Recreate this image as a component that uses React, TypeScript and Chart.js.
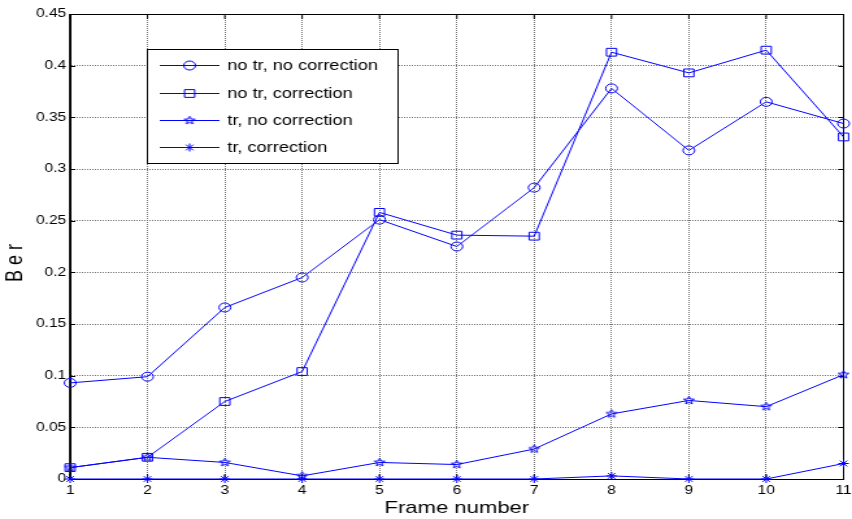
import React, { useEffect, useRef } from "react";
import { Chart, registerables } from "chart.js";
import { drawPoint } from "chart.js/helpers";

Chart.register(...registerables);

// Frame numbers on the x axis
const frames = [1, 2, 3, 4, 5, 6, 7, 8, 9, 10, 11];

// Bit error rate per frame, one array per configuration
const noTrNoCorrection = [0.093, 0.099, 0.166, 0.195, 0.251, 0.225, 0.282, 0.378, 0.318, 0.365, 0.344];
const noTrCorrection = [0.011, 0.021, 0.075, 0.104, 0.258, 0.236, 0.235, 0.413, 0.393, 0.415, 0.331];
const trNoCorrection = [0.011, 0.021, 0.016, 0.003, 0.016, 0.014, 0.029, 0.063, 0.076, 0.070, 0.101];
const trCorrection = [0, 0, 0, 0, 0, 0, 0, 0.003, 0, 0, 0.015];

const seriesLabels = ["no tr, no correction", "no tr, correction", "tr, no correction", "tr, correction"];

const yTicks = [0, 0.05, 0.1, 0.15, 0.2, 0.25, 0.3, 0.35, 0.4, 0.45];

const xTitle = "Frame number";
const yTitle = "B e r";

const CANVAS_W = 656;
const CANVAS_H = 519;
const STRETCH = 852 / CANVAS_W;
const FONT = '"Liberation Sans", Arial, Helvetica, sans-serif';
const BLUE = "#0000ff";

function makePentagram(r: number, color: string): HTMLCanvasElement {
  const size = Math.ceil(r * 2 + 4);
  const c = document.createElement("canvas");
  c.width = size;
  c.height = size;
  const g = c.getContext("2d")!;
  g.strokeStyle = color;
  g.lineWidth = 1;
  g.beginPath();
  for (let i = 0; i < 10; i++) {
    const a = -Math.PI / 2 + (i * Math.PI) / 5;
    const rr = i % 2 === 0 ? r : r * 0.42;
    const px = size / 2 + rr * Math.cos(a);
    const py = size / 2 + rr * Math.sin(a);
    if (i === 0) g.moveTo(px, py);
    else g.lineTo(px, py);
  }
  g.closePath();
  g.stroke();
  return c;
}

// Axes box with inward tick marks, MATLAB style
const framePlugin = {
  id: "axesFrame",
  beforeDatasetsDraw(chart: any) {
    const { ctx, chartArea: a, scales } = chart;
    ctx.save();
    ctx.strokeStyle = "#000";
    ctx.lineWidth = 1;
    ctx.strokeRect(a.left, Math.round(a.top) + 0.5, a.right - a.left, Math.round(a.bottom - a.top));
    ctx.lineWidth = 1.5;
    ctx.beginPath();
    ctx.moveTo(a.left, a.top);
    ctx.lineTo(a.left, a.bottom);
    ctx.stroke();
    ctx.lineWidth = 1;
    ctx.beginPath();
    for (const f of frames) {
      const px = scales.x.getPixelForValue(f);
      ctx.moveTo(px, a.bottom);
      ctx.lineTo(px, a.bottom - 5);
      ctx.moveTo(px, a.top);
      ctx.lineTo(px, a.top + 5);
    }
    for (const v of yTicks) {
      const py = Math.round(scales.y.getPixelForValue(v)) + 0.5;
      ctx.moveTo(a.left, py);
      ctx.lineTo(a.left + 4, py);
      ctx.moveTo(a.right, py);
      ctx.lineTo(a.right - 4, py);
    }
    ctx.stroke();
    ctx.restore();
  },
};

// Boxed legend placed inside the axes, plus the rotated y-axis label
const boxLegendPlugin = {
  id: "boxLegend",
  afterDraw(chart: any) {
    const { ctx } = chart;
    const left = 113;
    const top = 49;
    const w = 193;
    const h = 114;
    const rows = [65, 93, 120, 147];
    ctx.save();
    ctx.fillStyle = "#fff";
    ctx.fillRect(left, top, w, h);
    ctx.strokeStyle = "#000";
    ctx.lineWidth = 1;
    ctx.strokeRect(left + 0.5, top + 0.5, w, h);
    chart.data.datasets.forEach((ds: any, i: number) => {
      const y = rows[i] + 0.5;
      ctx.strokeStyle = ds.borderColor;
      ctx.lineWidth = 1;
      ctx.beginPath();
      ctx.moveTo(123, y);
      ctx.lineTo(169, y);
      ctx.stroke();
      ctx.fillStyle = "rgba(0,0,0,0)";
      drawPoint(ctx, { pointStyle: ds.pointStyle, radius: ds.pointRadius, rotation: 0, borderWidth: 1 } as any, 146, y);
      ctx.fillStyle = "#000";
      ctx.font = `14px ${FONT}`;
      ctx.textAlign = "left";
      ctx.textBaseline = "middle";
      ctx.fillText(ds.label, 175, rows[i] + 1);
    });

    ctx.translate(12.5, 263);
    ctx.rotate(-Math.PI / 2);
    ctx.fillStyle = "#000";
    ctx.font = `18px ${FONT}`;
    ctx.textAlign = "center";
    ctx.textBaseline = "middle";
    ctx.fillText(yTitle, 0, 0);
    ctx.restore();
  },
};

export default function App() {
  const canvasRef = useRef<HTMLCanvasElement | null>(null);

  useEffect(() => {
    const canvas = canvasRef.current;
    if (!canvas) return;
    const pentagram = makePentagram(4.3, BLUE);
    const toPoints = (vals: number[]) => frames.map((f, i) => ({ x: f, y: vals[i] }));
    const base = {
      borderColor: BLUE,
      backgroundColor: "rgba(0,0,0,0)",
      pointBorderColor: BLUE,
      pointBackgroundColor: "rgba(0,0,0,0)",
      borderWidth: 1,
      pointBorderWidth: 1,
      tension: 0,
      clip: false as const,
    };

    const gridCommon = { color: "#737373", lineWidth: 1, drawTicks: false };

    const chart = new Chart(canvas, {
      type: "line",
      data: {
        datasets: [
          { ...base, label: seriesLabels[0], data: toPoints(noTrNoCorrection), pointStyle: "circle", pointRadius: 4.5 },
          { ...base, label: seriesLabels[1], data: toPoints(noTrCorrection), pointStyle: "rect", pointRadius: 5.5 },
          { ...base, label: seriesLabels[2], data: toPoints(trNoCorrection), pointStyle: pentagram as any, pointRadius: 4 },
          { ...base, label: seriesLabels[3], data: toPoints(trCorrection), pointStyle: "star", pointRadius: 4 },
        ],
      },
      options: {
        responsive: false,
        animation: false,
        devicePixelRatio: 1,
        events: [],
        layout: { padding: { left: 0, right: 3, top: 14, bottom: 0 } },
        plugins: { legend: { display: false }, tooltip: { enabled: false } },
        scales: {
          x: {
            type: "linear",
            min: 1,
            max: 11,
            ticks: { stepSize: 1, padding: 4, color: "#000", font: { family: FONT, size: 12 }, autoSkip: false, maxRotation: 0 },
            grid: gridCommon,
            border: { display: true, color: "#000", width: 1, dash: [1, 1] },
            title: { display: true, text: xTitle, color: "#000", font: { family: FONT, size: 17 }, padding: { top: 0, bottom: 0 } },
            afterFit(scale: any) {
              scale.height = 40;
              scale.paddingLeft = 0;
              scale.paddingRight = 0;
            },
          },
          y: {
            type: "linear",
            min: 0,
            max: 0.45,
            afterBuildTicks(scale: any) {
              scale.ticks = yTicks.map((v) => ({ value: v }));
            },
            ticks: {
              padding: 3,
              color: "#000",
              font: { family: FONT, size: 12 },
              autoSkip: false,
              callback: (v: any) => String(Math.round(Number(v) * 100) / 100),
            },
            grid: gridCommon,
            border: { display: true, color: "#000", width: 1, dash: [1, 1] },
            title: { display: false },
            afterFit(scale: any) {
              scale.width = 54;
              scale.paddingTop = 0;
              scale.paddingBottom = 0;
            },
          },
        },
      } as any,
      plugins: [framePlugin, boxLegendPlugin],
    });

    return () => chart.destroy();
  }, []);

  return (
    <div style={{ position: "fixed", left: 0, top: 0, width: 852, height: 519, overflow: "hidden", background: "#fff" }}>
      <div style={{ width: CANVAS_W, height: CANVAS_H, transform: `scaleX(${STRETCH})`, transformOrigin: "0 0" }}>
        <canvas ref={canvasRef} width={CANVAS_W} height={CANVAS_H} />
      </div>
    </div>
  );
}
